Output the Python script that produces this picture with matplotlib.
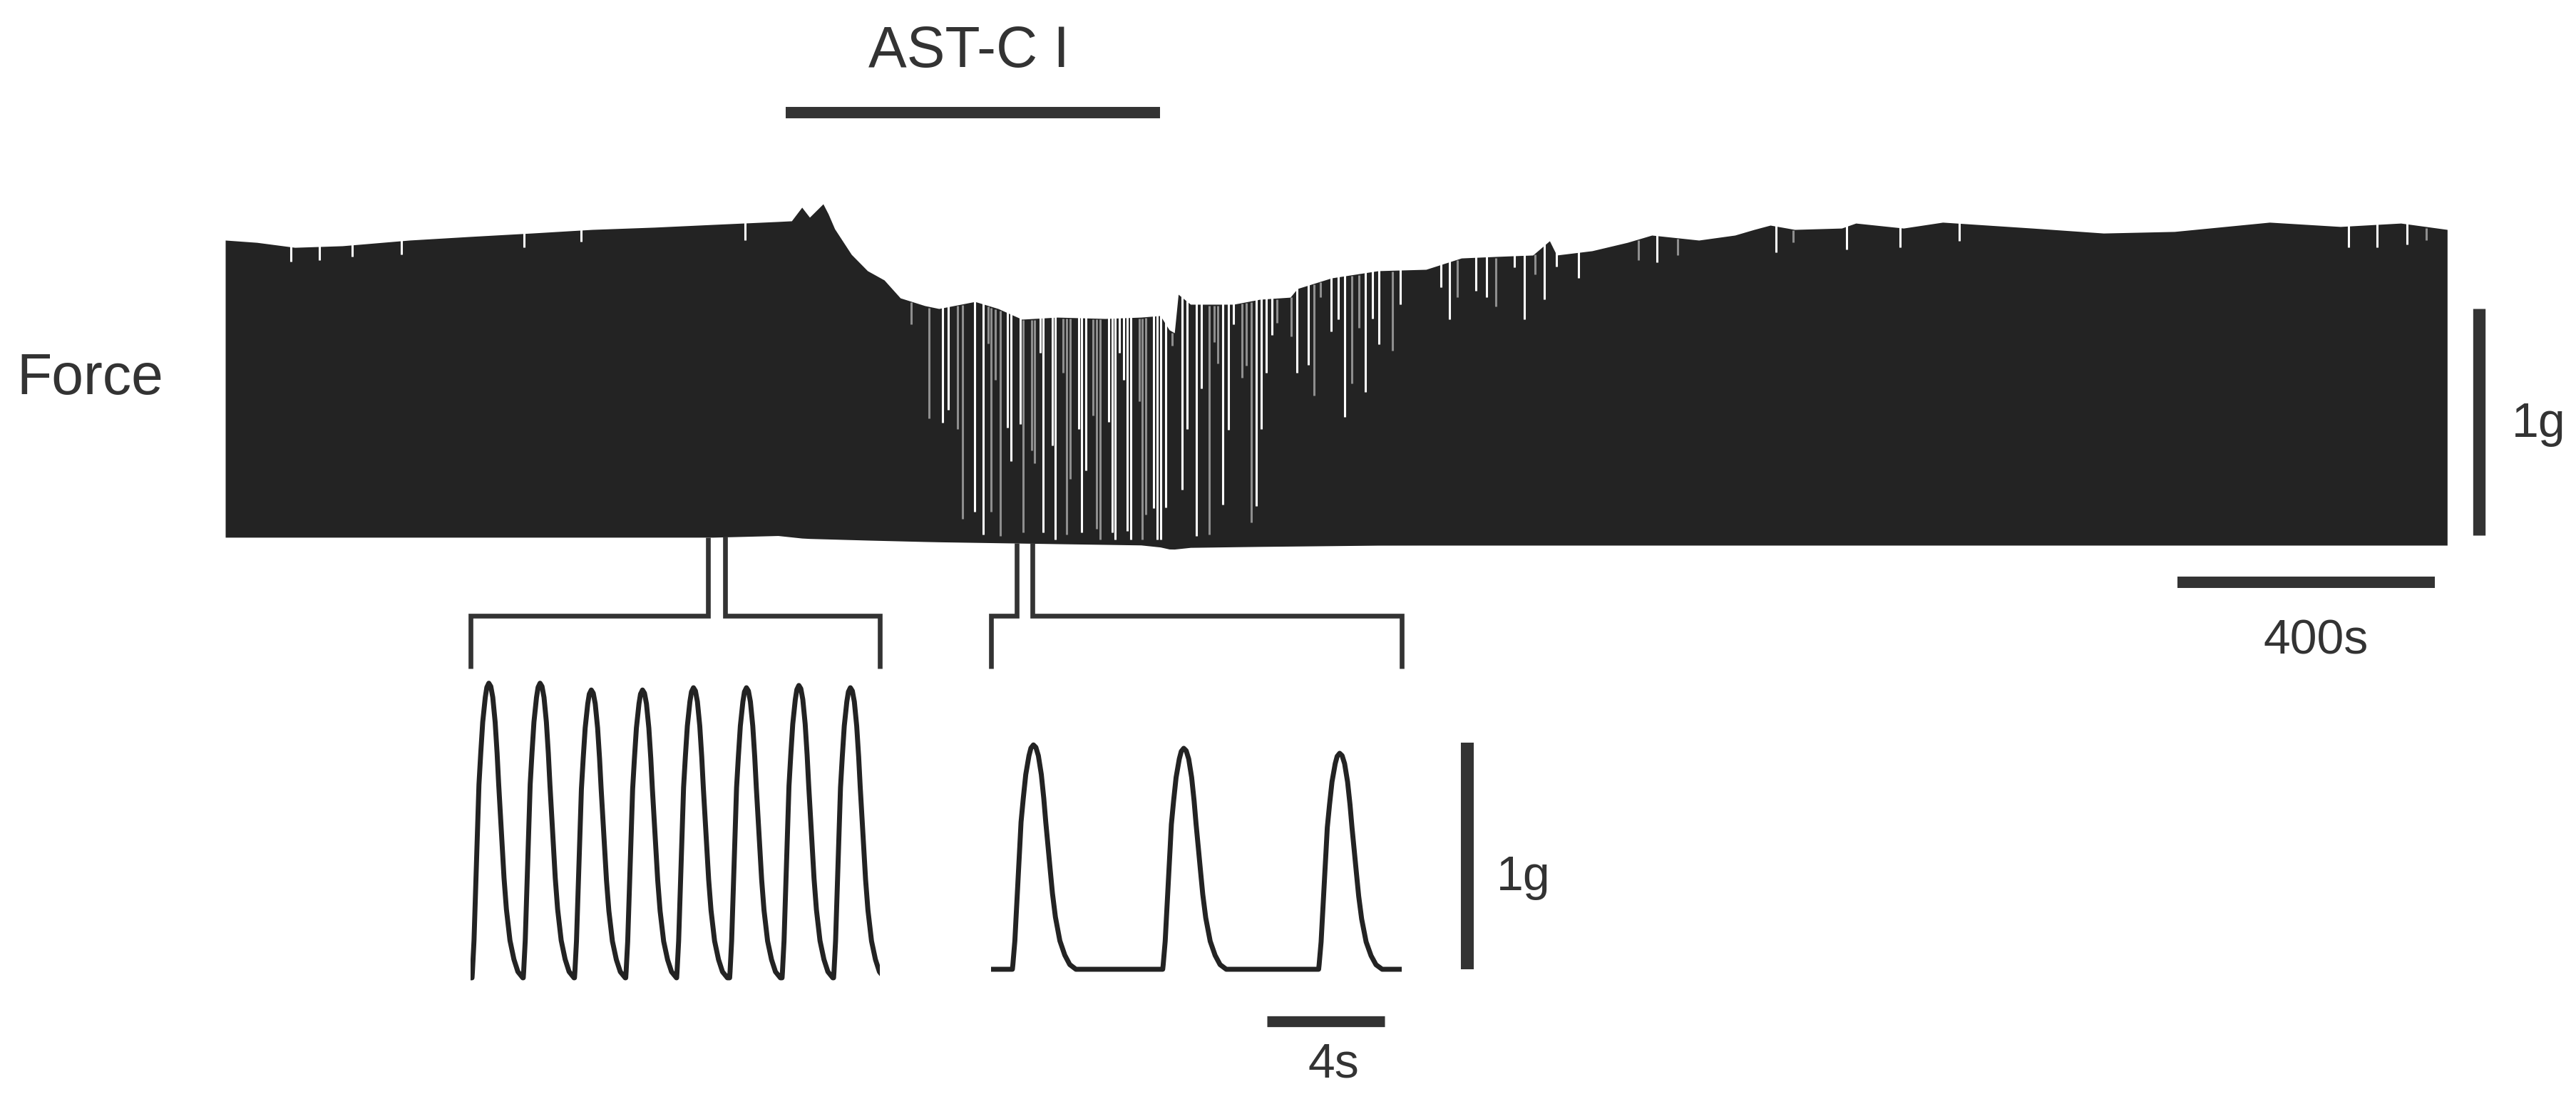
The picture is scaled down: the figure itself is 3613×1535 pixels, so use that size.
import numpy as np
import matplotlib.pyplot as plt
from matplotlib.lines import Line2D

plt.rcParams['font.family'] = ['Liberation Sans', 'DejaVu Sans']

# ---- main force trace (time in s, force in g) ----
# upper envelope of the twitches
env_t = [0, 49, 108, 182, 286, 381, 476, 570, 667, 758,
         859, 880, 896, 908, 929, 937, 947, 973, 998, 1024,
         1049, 1087, 1109, 1165, 1201, 1238, 1293, 1367, 1423, 1453,
         1467, 1475, 1481, 1500, 1567, 1608, 1655, 1666, 1719, 1792,
         1866, 1921, 1977, 2032, 2058, 2069, 2124, 2179, 2217, 2290,
         2346, 2376, 2401, 2439, 2512, 2534, 2608, 2669, 2808, 2919,
         3029, 3177, 3287, 3381, 3453]
env_g = [1.346, 1.336, 1.314, 1.321, 1.346, 1.362, 1.377, 1.393, 1.403, 1.415,
         1.428, 1.431, 1.491, 1.447, 1.506, 1.462, 1.396, 1.283, 1.211, 1.170,
         1.091, 1.057, 1.044, 1.075, 1.044, 0.997, 1.006, 1.000, 1.006, 1.013,
         0.950, 0.937, 1.107, 1.063, 1.063, 1.085, 1.094, 1.132, 1.179, 1.211,
         1.217, 1.267, 1.274, 1.280, 1.343, 1.280, 1.299, 1.336, 1.368, 1.346,
         1.368, 1.393, 1.412, 1.393, 1.399, 1.421, 1.399, 1.425, 1.399, 1.377,
         1.384, 1.425, 1.406, 1.421, 1.393]

# resting baseline
base_t = [0, 760, 850, 900, 1000, 1100, 1300, 1440, 1470, 1500, 1600, 1800, 3453]
base_g = [0.035, 0.035, 0.045, 0.030, 0.022, 0.015, 0.006, 0.0, -0.019, -0.010, -0.006, 0.0, 0.0]

# pauses between beats (white / grey stripes): time, lowest force reached, grey flag
gap_t = [102, 146, 197, 274, 464, 553, 808, 1066,
         1094, 1115, 1123, 1138, 1146, 1164, 1178, 1186, 1190, 1197,
         1204, 1216, 1221, 1235, 1240, 1253, 1258, 1266, 1271, 1285,
         1290, 1302, 1308, 1313, 1326, 1331, 1337, 1349, 1354, 1360,
         1373, 1378, 1383, 1389, 1396, 1402, 1407, 1420, 1425, 1431,
         1443, 1448, 1454, 1462, 1472, 1487, 1495, 1509, 1517, 1529,
         1537, 1542, 1550, 1559,
         1567, 1580, 1587, 1594, 1602, 1610, 1618, 1627, 1634, 1657,
         1665, 1683, 1692, 1702, 1719, 1730, 1740, 1751, 1762, 1772,
         1783, 1793, 1814, 1826, 1889, 1902, 1915, 1943, 1960, 1975,
         2003, 2019, 2035, 2050,
         2069, 2103, 2196, 2225, 2257, 2410, 2437, 2520, 2603, 2695,
         3300, 3344, 3391, 3420]
gap_g = [1.252, 1.258, 1.274, 1.283, 1.314, 1.340, 1.346, 0.975,
         0.561, 0.540, 0.598, 0.514, 0.115, 0.147, 0.047, 0.891, 0.147, 0.729,
         0.042, 0.519, 0.372, 0.535, 0.058, 0.419, 0.362, 0.849, 0.058, 0.440,
         0.026, 0.760, 0.047, 0.294, 0.514, 0.058, 0.330, 0.571, 0.073, 0.026,
         0.545, 0.058, 0.026, 0.849, 0.729, 0.063, 0.026, 0.634, 0.026, 0.136,
         0.163, 0.026, 0.026, 0.168, 0.880, 0.246, 0.514, 0.042, 0.692, 0.047,
         0.896, 0.802, 0.178, 0.508,
         0.975, 0.739, 0.791, 0.100, 0.173, 0.514, 0.760, 0.928, 0.980, 0.922,
         0.760, 0.797, 0.660, 1.095, 0.943, 0.996, 0.566, 0.713, 0.959, 0.676,
         1.001, 0.886, 0.860, 1.064, 1.137, 0.996, 1.095, 1.122, 1.095, 1.053,
         1.226, 0.996, 1.195, 1.085,
         1.231, 1.179, 1.258, 1.247, 1.279, 1.294, 1.336, 1.305, 1.313, 1.343,
         1.313, 1.313, 1.326, 1.347]
gap_grey = [0, 0, 0, 0, 0, 0, 0, 1,
            1, 0, 0, 1, 1, 0, 0, 1, 1, 1,
            1, 0, 0, 0, 1, 1, 1, 0, 0, 0,
            0, 1, 1, 1, 0, 0, 0, 1, 1, 1,
            0, 0, 0, 0, 0, 0, 0, 1, 1, 1,
            0, 0, 0, 0, 1, 0, 0, 0, 0, 1,
            1, 1, 0, 0,
            0, 1, 1, 1, 0, 0, 0, 0, 1, 1,
            0, 0, 1, 1, 0, 0, 0, 1, 1, 0,
            0, 0, 1, 0, 0, 0, 1, 0, 0, 1,
            0, 0, 1, 0,
            0, 0, 1, 0, 1, 0, 1, 0, 0, 0,
            0, 0, 0, 1]

drug_on, drug_off = 871, 1453      # AST-C I application (s)
window1 = (750, 777)               # expanded in left inset
window2 = (1230, 1254)             # expanded in right inset

# ---- single twitch shape (s from peak, fraction of peak) ----
twitch_dt = [-0.687, -0.671, -0.606, -0.566, -0.525, -0.485, -0.444, -0.404, -0.331,
             -0.250, -0.145, -0.081, 0.0, 0.081, 0.162, 0.259, 0.339, 0.404,
             0.477, 0.549, 0.622, 0.719, 0.865, 1.026, 1.188, 1.390]
twitch_f = [0.0, 0.021, 0.127, 0.233, 0.339, 0.444, 0.550, 0.656, 0.762,
            0.868, 0.952, 0.986, 1.0, 0.989, 0.952, 0.868, 0.762, 0.656,
            0.550, 0.444, 0.339, 0.233, 0.127, 0.063, 0.021, 0.0]

# inset 1 (before drug) and inset 2 (during drug): peak times (s) and heights (g)
peaks1_t = [0.62, 2.36, 4.10, 5.84, 7.57, 9.37, 11.15, 12.90]
peaks1_g = [1.30, 1.30, 1.27, 1.27, 1.28, 1.28, 1.29, 1.28]
peaks2_t = [1.44, 6.55, 11.85]
peaks2_g = [0.99, 0.975, 0.953]
inset1_len = 13.9
inset2_len = 13.96

# ---- layout (pixels of the 3613x1535 output) ----
W, H = 3613, 1535
dark = '#232323'
ink = '#333333'
s_px = 0.9025      # main trace: pixels per second
g_px = 318.0       # pixels per gram

fig = plt.figure(figsize=(W / 100, H / 100), dpi=100)


def px_axes(x0, y0, x1, y1):
    ax = fig.add_axes([x0 / W, 1 - y1 / H, (x1 - x0) / W, (y1 - y0) / H])
    ax.set_axis_off()
    return ax


# main trace axes
main_base = 765
ax = px_axes(316, 250, 3432, 780)
ax.set_xlim(0, (3432 - 316) / s_px)
ax.set_ylim((main_base - 780) / g_px, (main_base - 250) / g_px)

env_t = np.array(env_t, float)
env_g = np.array(env_g, float)
floor = np.interp(env_t, base_t, base_g)
ax.fill_between(env_t, floor, env_g, color=dark, linewidth=0)

gap_t = np.array(gap_t, float)
gap_g = np.array(gap_g, float)
gap_grey = np.array(gap_grey, bool)
gap_top = np.interp(gap_t, env_t, env_g)
ax.vlines(gap_t[~gap_grey], gap_g[~gap_grey], gap_top[~gap_grey] + 0.05,
          colors='white', linewidth=2.2)
ax.vlines(gap_t[gap_grey], gap_g[gap_grey], gap_top[gap_grey] - 0.005,
          colors='#8e8e8e', linewidth=2.2)

# drug bar and label
ax.plot([drug_on, drug_off], [1.909, 1.909], color=ink, lw=11.5,
        solid_capstyle='butt', clip_on=False)
ax.text((drug_on + drug_off) / 2 - 7, 2.11, 'AST-C I', ha='center', va='baseline',
        fontsize=58, color=ink)

# scale bars for the main trace
ax.plot([3502.5, 3502.5], [0.044, 1.044], color=ink, lw=12.5,
        solid_capstyle='butt', clip_on=False)
ax.text(3553, 0.478, '1g', ha='left', va='baseline', fontsize=49, color=ink)
ax.plot([3034, 3434], [-0.1635, -0.1635], color=ink, lw=11.5,
        solid_capstyle='butt', clip_on=False)
ax.text(3249, -0.478, '400s', ha='center', va='baseline', fontsize=49, color=ink)

fig.text(23 / W, 1 - 553 / H, 'Force', ha='left', va='baseline', fontsize=58, color=ink)


def twitch_train(peaks_t, peaks_g, t_end, scale):
    xs, ys = [0.0], [0.0]
    for tp, gp in zip(peaks_t, peaks_g):
        xs += list(tp + scale * np.array(twitch_dt))
        ys += list(gp * np.array(twitch_f))
    if xs[-1] < t_end:
        xs.append(t_end)
        ys.append(0.0)
    return xs, ys


# inset 1
b1 = 1372
ax1 = px_axes(660, 930, 1234, 1400)
ax1.set_xlim(0, inset1_len)
ax1.set_ylim((b1 - 1400) / g_px, (b1 - 930) / g_px)
x1, y1 = twitch_train(peaks1_t, peaks1_g, inset1_len, 0.83)
ax1.plot(x1, y1, color=dark, lw=5, solid_joinstyle='round')

# inset 2
b2 = 1360
ax2 = px_axes(1390, 930, 1966, 1400)
ax2.set_xlim(0, inset2_len)
ax2.set_ylim((b2 - 1400) / g_px, (b2 - 930) / g_px)
x2, y2 = twitch_train(peaks2_t, peaks2_g, inset2_len, 1.04)
ax2.plot(x2, y2, color=dark, lw=5, solid_joinstyle='round')

# inset scale bars
ax2.plot([9.38, 13.38], [-0.23, -0.23], color=ink, lw=11,
         solid_capstyle='butt', clip_on=False)
ax2.text(11.64, -0.475, '4s', ha='center', va='baseline', fontsize=49, color=ink)
ax2.plot([16.19, 16.19], [0.0, 1.0], color=ink, lw=13,
         solid_capstyle='butt', clip_on=False)
ax2.text(17.19, 0.349, '1g', ha='left', va='baseline', fontsize=49, color=ink)

# brackets linking the main trace to the insets
to_fig = fig.transFigure.inverted()


def fig_xy(a, x, y, trans='data'):
    tr = a.transData if trans == 'data' else a.transAxes
    return to_fig.transform(tr.transform((x, y)))


level = 1 - 864 / H
drop = 1 - 938 / H
for win, a in ((window1, ax1), (window2, ax2)):
    cl = fig_xy(ax, win[0], np.interp(win[0], base_t, base_g))
    cr = fig_xy(ax, win[1], np.interp(win[1], base_t, base_g))
    il = fig_xy(a, 0, 0, 'axes')[0]
    ir = fig_xy(a, 1, 0, 'axes')[0]
    fig.add_artist(Line2D([il, il, cl[0], cl[0]], [drop, level, level, cl[1]],
                          transform=fig.transFigure, color=ink, lw=4.8,
                          solid_joinstyle='miter', solid_capstyle='butt'))
    fig.add_artist(Line2D([cr[0], cr[0], ir, ir], [cr[1], level, level, drop],
                          transform=fig.transFigure, color=ink, lw=4.8,
                          solid_joinstyle='miter', solid_capstyle='butt'))

fig.savefig('out.png', dpi=100, facecolor='white')
